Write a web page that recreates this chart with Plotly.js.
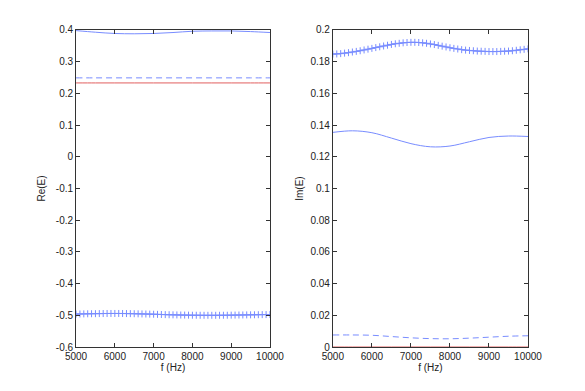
<!DOCTYPE html>
<html>
<head>
<meta charset="utf-8">
<script src="https://cdn.plot.ly/plotly-3.0.1.min.js"></script>
<style>
  html, body { margin: 0; padding: 0; background: #fff; }
  #chart { width: 585px; height: 391px; }
</style>
</head>
<body>
<div id="chart"></div>
<script>
// frequency grids
const fLine = [5000, 5500, 6000, 6500, 7000, 7500, 8000, 8500, 9000, 9500, 10000];
const fMark = [];
for (let f = 5000; f <= 10000; f += 100) fMark.push(f);

// Re(E) curves
const reTopBlue = [0.398, 0.393, 0.389, 0.388, 0.389, 0.392, 0.396, 0.397, 0.397, 0.395, 0.392];
const reDashed = [0.249, 0.249, 0.249, 0.249, 0.249, 0.249, 0.249, 0.249, 0.249, 0.249, 0.249];
const reRed = [0.233, 0.233, 0.233, 0.233, 0.233, 0.233, 0.233, 0.233, 0.233, 0.233, 0.233];
const reCross = [
  -0.496, -0.4958, -0.4955, -0.4952, -0.495, -0.4948, -0.4946, -0.4944, -0.4943, -0.4942,
  -0.4942, -0.4942, -0.4943, -0.4945, -0.4947, -0.495, -0.4953, -0.4956, -0.4959, -0.4962,
  -0.4966, -0.497, -0.4974, -0.4978, -0.4982, -0.4985, -0.4988, -0.4991, -0.4993, -0.4995,
  -0.4997, -0.4998, -0.4999, -0.5, -0.5, -0.5, -0.5, -0.4999, -0.4998, -0.4997,
  -0.4995, -0.4993, -0.4991, -0.4989, -0.4987, -0.4985, -0.4983, -0.4981, -0.4979, -0.4977,
  -0.4975
];

// Im(E) curves
const imMidBlue = [0.1354, 0.1364, 0.1352, 0.1318, 0.1283, 0.1263, 0.1268, 0.1295, 0.1322, 0.1331, 0.1328];
const imDashed = [0.0076, 0.0076, 0.0074, 0.0066, 0.0058, 0.0053, 0.0052, 0.0056, 0.0062, 0.0068, 0.0071];
const imRed = [0, 0, 0, 0, 0, 0, 0, 0, 0, 0, 0];
const imCross = [
  0.1848, 0.1849, 0.1851, 0.1854, 0.1857, 0.1861, 0.1865, 0.1869, 0.1874, 0.1879,
  0.1884, 0.1889, 0.1894, 0.1899, 0.1904, 0.1909, 0.1913, 0.1916, 0.1919, 0.1921,
  0.1922, 0.1922, 0.1921, 0.1919, 0.1916, 0.1912, 0.1908, 0.1903, 0.1898, 0.1893,
  0.1888, 0.1884, 0.188, 0.1876, 0.1873, 0.1871, 0.1869, 0.1867, 0.1866, 0.1865,
  0.1864, 0.1864, 0.1864, 0.1865, 0.1866, 0.1867, 0.1869, 0.1872, 0.1875, 0.1878,
  0.1881
];

const fTicks = [5000, 6000, 7000, 8000, 9000, 10000];
const fTickText = ['5000', '6000', '7000', '8000', '9000', '10000'];

const blue = 'rgb(60,85,250)';
const lightBlue = 'rgb(120,140,255)';
const red = 'rgb(225,95,95)';

function solid(x, y, color, xa, ya, dash) {
  return {
    x: x, y: y, xaxis: xa, yaxis: ya,
    type: 'scatter', mode: 'lines',
    line: { color: color, width: 1, dash: dash || 'solid', shape: 'spline' },
    hoverinfo: 'skip'
  };
}

function crosses(x, y, xa, ya) {
  return {
    x: x, y: y, xaxis: xa, yaxis: ya,
    type: 'scatter', mode: 'lines+markers',
    line: { color: lightBlue, width: 1, shape: 'spline' },
    marker: { symbol: 'cross-thin-open', size: 5, line: { color: blue, width: 1 } },
    hoverinfo: 'skip'
  };
}

const traces = [
  solid(fLine, reRed, red, 'x', 'y'),
  solid(fLine, reDashed, lightBlue, 'x', 'y', '6px,4px'),
  solid(fLine, reTopBlue, lightBlue, 'x', 'y'),
  crosses(fMark, reCross, 'x', 'y'),
  solid(fLine, imRed, red, 'x2', 'y2'),
  solid(fLine, imDashed, lightBlue, 'x2', 'y2', '6px,4px'),
  solid(fLine, imMidBlue, lightBlue, 'x2', 'y2'),
  crosses(fMark, imCross, 'x2', 'y2')
];

const tickFont = { family: 'Liberation Sans, Arial, sans-serif', size: 10, color: '#222' };

function xAxis(domain, anchor) {
  return {
    domain: domain, anchor: anchor,
    range: [5000, 10000],
    tickvals: fTicks, ticktext: fTickText,
    ticks: 'inside', ticklen: 4, tickcolor: '#333',
    showline: true, linecolor: '#333', linewidth: 1, mirror: 'ticks',
    showgrid: false, zeroline: false,
    tickfont: tickFont,
    title: { text: 'f (Hz)', font: tickFont, standoff: 2 }
  };
}

const layout = {
  width: 585, height: 391,
  margin: { l: 0, r: 0, t: 0, b: 0 },
  paper_bgcolor: '#fff', plot_bgcolor: '#fff',
  showlegend: false,
  xaxis: xAxis([0.130, 0.4615], 'y'),
  xaxis2: xAxis([0.569, 0.9026], 'y2'),
  yaxis: {
    domain: [0.1125, 0.9233], anchor: 'x',
    range: [-0.6, 0.4],
    tickvals: [-0.6, -0.5, -0.4, -0.3, -0.2, -0.1, 0, 0.1, 0.2, 0.3, 0.4],
    ticktext: ['-0.6', '-0.5', '-0.4', '-0.3', '-0.2', '-0.1', '0', '0.1', '0.2', '0.3', '0.4'],
    ticks: 'inside', ticklen: 4, tickcolor: '#333',
    showline: true, linecolor: '#333', linewidth: 1, mirror: 'ticks',
    showgrid: false, zeroline: false,
    tickfont: tickFont,
    title: { text: 'Re(E)', font: tickFont, standoff: 8 }
  },
  yaxis2: {
    domain: [0.1125, 0.9233], anchor: 'x2',
    range: [0, 0.2],
    tickvals: [0, 0.02, 0.04, 0.06, 0.08, 0.1, 0.12, 0.14, 0.16, 0.18, 0.2],
    ticktext: ['0', '0.02', '0.04', '0.06', '0.08', '0.1', '0.12', '0.14', '0.16', '0.18', '0.2'],
    ticks: 'inside', ticklen: 4, tickcolor: '#333',
    showline: true, linecolor: '#333', linewidth: 1, mirror: 'ticks',
    showgrid: false, zeroline: false,
    tickfont: tickFont,
    title: { text: 'Im(E)', font: tickFont, standoff: 4 }
  }
};

Plotly.newPlot('chart', traces, layout, { displayModeBar: false, staticPlot: true });
</script>
</body>
</html>
